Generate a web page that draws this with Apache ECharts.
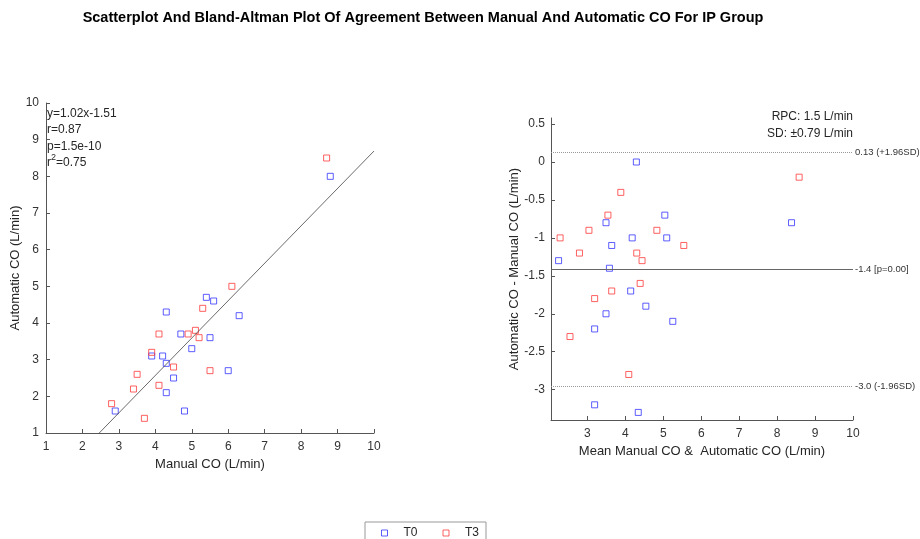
<!DOCTYPE html>
<html>
<head>
<meta charset="utf-8">
<script src="https://cdn.jsdelivr.net/npm/echarts@6/dist/echarts.min.js"></script>
<style>
  html, body { margin: 0; padding: 0; background: #fff; }
  #chart { width: 920px; height: 539px; }
</style>
</head>
<body>
<div id="chart"></div>
<script>
// Group names
const groups = ['T0', 'T3'];

// Scatterplot: manual CO (x) vs automatic CO (y), L/min
const t0Manual = [2.9, 3.9, 4.2, 4.3, 4.3, 4.3, 4.5, 4.7, 4.8, 5.0, 5.4, 5.5, 5.6, 6.0, 6.3, 8.8];
const t0Auto   = [1.6, 3.1, 3.1, 4.3, 2.9, 2.1, 2.5, 3.7, 1.6, 3.3, 4.7, 3.6, 4.6, 2.7, 4.2, 8.0];
const t3Manual = [2.8, 3.5, 3.4, 3.7, 3.9, 4.1, 4.1, 4.5, 4.9, 5.1, 5.2, 5.3, 5.5, 6.1, 8.7];
const t3Auto   = [1.8, 2.6, 2.2, 1.4, 3.2, 3.7, 2.3, 2.8, 3.7, 3.8, 3.6, 4.4, 2.7, 5.0, 8.5];

// Bland-Altman: mean of both methods (x) vs difference automatic - manual (y)
const t0Mean = [2.24, 3.49, 3.64, 3.58, 4.18, 4.29, 5.04, 5.09, 4.14, 4.54, 3.49, 3.19, 5.25, 3.19, 4.34, 8.38];
const t0Diff = [-1.3, -0.8, -1.1, -1.4, -1.0, 0.0, -0.7, -1.0, -1.7, -1.9, -2.0, -2.2, -2.1, -3.2, -3.3, -0.8];
const t3Mean = [2.28, 2.79, 3.04, 3.54, 3.88, 4.30, 4.44, 4.39, 4.83, 5.54, 3.64, 3.19, 2.54, 4.09, 8.58];
const t3Diff = [-1.0, -1.2, -0.9, -0.7, -0.4, -1.2, -1.3, -1.6, -0.9, -1.1, -1.7, -1.8, -2.3, -2.8, -0.2];

// Regression statistics
const fitSlope = 1.02;
const fitIntercept = -1.51;
const fitR = 0.87;
const fitP = '1.5e-10';
const fitR2 = 0.75;

// Agreement statistics
const baUpper = 0.13;
const baMean = -1.41;
const baLower = -2.96;
const baMeanP = '0.00';
const baRPC = 1.5;
const baSD = 0.79;

// Axis ranges and tick labels
const scatterRange = [1, 10];
const baXRange = [2.04, 10];
const baYRange = [-3.4, 0.58];
const baXTicks = [3, 4, 5, 6, 7, 8, 9, 10];
const baYTicks = [-3, -2.5, -2, -1.5, -1, -0.5, 0, 0.5];

const colors = { T0: '#3535ff', T3: '#ff3a3a' };
const textColor = '#262626';
const axisColor = '#555';
const fontFamily = '"Liberation Sans", Arial, sans-serif';

function zip(a, b) { return a.map((v, i) => [v, b[i]]); }

// Least-squares line evaluated at both ends of the x-range (clipped to the grid)
const fitLine = [scatterRange[0], scatterRange[1]].map(x => [x, fitSlope * x + fitIntercept]);

const axisBase = {
  axisLine: { show: true, onZero: false, lineStyle: { color: axisColor, width: 1 } },
  axisTick: { show: true, inside: true, length: 4, lineStyle: { color: axisColor } },
  splitLine: { show: false },
  axisLabel: { color: '#333', fontSize: 12, fontFamily: fontFamily },
  nameTextStyle: { color: textColor, fontSize: 13, fontFamily: fontFamily },
  nameLocation: 'middle'
};

function markerStyle(c) {
  return { color: 'rgba(255,255,255,0)', borderColor: c, borderWidth: 1 };
}

const lineLabel = (txt, pad) => ({
  show: true, position: 'end', distance: 2, formatter: txt,
  color: '#333', fontSize: 9.5, fontFamily: fontFamily,
  padding: pad
});

const option = {
  animation: false,
  backgroundColor: '#fff',
  grid: [
    { left: 46, top: 103, width: 328, height: 330 },
    { left: 551, top: 118, width: 302, height: 302 }
  ],
  xAxis: [
    Object.assign({}, axisBase, {
      gridIndex: 0, type: 'value', min: scatterRange[0], max: scatterRange[1], interval: 1,
      name: 'Manual CO (L/min)', nameGap: 25,
      axisLabel: Object.assign({}, axisBase.axisLabel, { margin: 8 })
    }),
    Object.assign({}, axisBase, {
      gridIndex: 1, type: 'value', min: baXRange[0], max: baXRange[1],
      name: 'Mean Manual CO &  Automatic CO (L/min)', nameGap: 25,
      axisTick: Object.assign({}, axisBase.axisTick, { customValues: baXTicks }),
      axisLabel: Object.assign({}, axisBase.axisLabel, { margin: 8, customValues: baXTicks })
    })
  ],
  yAxis: [
    Object.assign({}, axisBase, {
      gridIndex: 0, type: 'value', min: scatterRange[0], max: scatterRange[1], interval: 1,
      name: 'Automatic CO (L/min)', nameGap: 24,
      axisLabel: Object.assign({}, axisBase.axisLabel, { margin: 7 })
    }),
    Object.assign({}, axisBase, {
      gridIndex: 1, type: 'value', min: baYRange[0], max: baYRange[1],
      name: 'Automatic CO - Manual CO (L/min)', nameGap: 30,
      axisTick: Object.assign({}, axisBase.axisTick, { customValues: baYTicks }),
      axisLabel: Object.assign({}, axisBase.axisLabel, { margin: 6, customValues: baYTicks })
    })
  ],
  legend: {
    data: groups.map(g => ({ name: g, icon: 'rect', itemStyle: markerStyle(colors[g]) })),
    left: 365, top: 522,
    orient: 'horizontal',
    backgroundColor: '#fff',
    borderColor: '#999', borderWidth: 1, borderRadius: 0,
    padding: [5, 7, 5, 16],
    itemGap: 25,
    itemWidth: 6, itemHeight: 6,
    textStyle: { color: textColor, fontSize: 12, fontFamily: fontFamily, padding: [0, 0, 0, 11] }
  },
  graphic: [
    {
      type: 'text', x: 423, y: 18, silent: true,
      style: {
        text: 'Scatterplot And Bland-Altman Plot Of Agreement Between Manual And Automatic CO For IP Group',
        align: 'center', verticalAlign: 'middle',
        fill: '#000', font: 'bold 14.5px ' + fontFamily
      }
    },
    {
      type: 'text', x: 47, y: 105, silent: true,
      style: {
        text: [
          'y=' + fitSlope.toFixed(2) + 'x' + fitIntercept.toFixed(2),
          'r=' + fitR.toFixed(2),
          'p=' + fitP,
          'r{sup|2}=' + fitR2.toFixed(2)
        ].join('\n'),
        fill: textColor, font: '12px ' + fontFamily,
        lineHeight: 16.5,
        rich: { sup: { fontSize: 9, padding: [0, 0, 10, 0], fill: textColor } }
      }
    },
    {
      type: 'text', x: 853, y: 125, silent: true,
      style: {
        text: 'RPC: ' + baRPC.toFixed(1) + ' L/min\nSD: \u00b1' + baSD.toFixed(2) + ' L/min',
        align: 'right', verticalAlign: 'middle',
        fill: textColor, font: '12px ' + fontFamily, lineHeight: 17
      }
    }
  ],
  series: [
    {
      name: 'T0', type: 'scatter', xAxisIndex: 0, yAxisIndex: 0,
      symbol: 'rect', symbolSize: 6, itemStyle: markerStyle(colors.T0),
      data: zip(t0Manual, t0Auto)
    },
    {
      name: 'T3', type: 'scatter', xAxisIndex: 0, yAxisIndex: 0,
      symbol: 'rect', symbolSize: 6, itemStyle: markerStyle(colors.T3),
      data: zip(t3Manual, t3Auto)
    },
    {
      name: 'fit', type: 'line', xAxisIndex: 0, yAxisIndex: 0,
      data: fitLine, symbol: 'none', clip: true, silent: true,
      lineStyle: { color: '#444', width: 0.8 }
    },
    {
      name: 'T0', type: 'scatter', xAxisIndex: 1, yAxisIndex: 1,
      symbol: 'rect', symbolSize: 6, itemStyle: markerStyle(colors.T0),
      data: zip(t0Mean, t0Diff),
      markLine: {
        silent: true, symbol: 'none', animation: false,
        data: [
          { yAxis: baMean, lineStyle: { color: '#666', width: 1, type: 'solid' },
            label: lineLabel(baMean.toFixed(1) + ' [p=' + baMeanP + ']', [4, 0, 0, 0]) },
          { yAxis: baUpper, lineStyle: { color: '#999', width: 1, type: 'dotted' },
            label: lineLabel(baUpper.toFixed(2) + ' (+1.96SD)', [0, 0, 12, 0]) },
          { yAxis: baLower, lineStyle: { color: '#999', width: 1, type: 'dotted' },
            label: lineLabel(baLower.toFixed(1) + ' (-1.96SD)', [16, 0, 0, 0]) }
        ]
      }
    },
    {
      name: 'T3', type: 'scatter', xAxisIndex: 1, yAxisIndex: 1,
      symbol: 'rect', symbolSize: 6, itemStyle: markerStyle(colors.T3),
      data: zip(t3Mean, t3Diff)
    }
  ]
};

const chart = echarts.init(document.getElementById('chart'), null, { renderer: 'canvas' });
chart.setOption(option);
</script>
</body>
</html>
